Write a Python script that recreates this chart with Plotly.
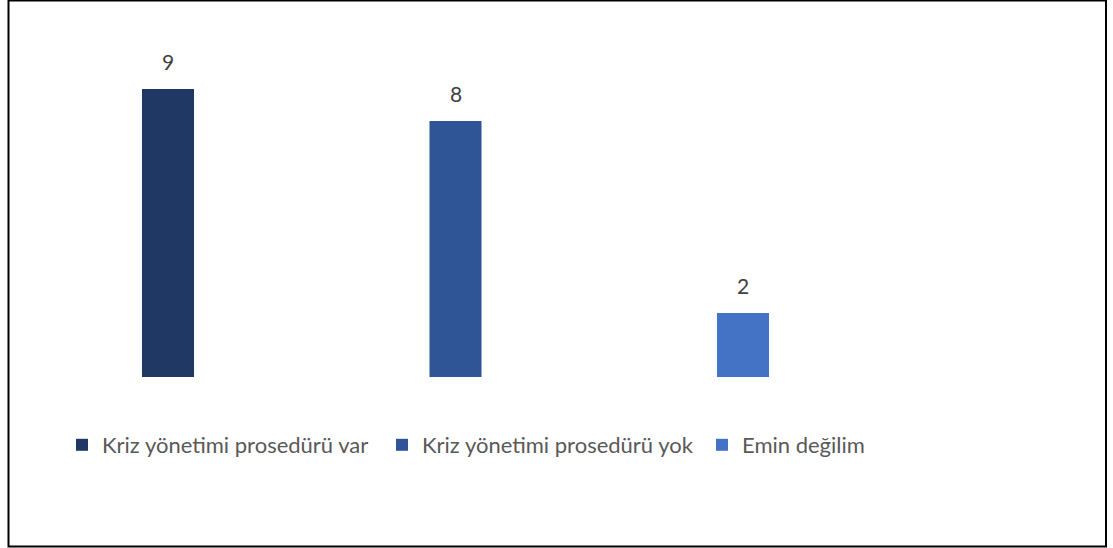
import plotly.graph_objects as go

W, H = 1113, 548
series_names = ["Kriz yönetimi prosedürü var", "Kriz yönetimi prosedürü yok", "Emin değilim"]
values = [9, 8, 2]
colors = ["#1F3864", "#2F5597", "#4472C4"]
positions = [0, 1, 2]

fig = go.Figure()
for name, v, c, p in zip(series_names, values, colors, positions):
    fig.add_trace(go.Bar(x=[p], y=[v], name=name, marker_color=c, width=0.181,
                         marker_line_width=0, hoverinfo="skip"))
    fig.add_annotation(x=p, y=v, text=str(v), showarrow=False, yanchor="bottom",
                       yshift=13, font=dict(family="Lato", size=21, color="#404040"))

fig.update_layout(
    width=W, height=H,
    margin=dict(l=0, r=0, t=0, b=0),
    paper_bgcolor="white", plot_bgcolor="white",
    barmode="overlay",
    xaxis=dict(domain=[24.25 / W, 886.75 / W], range=[-0.5, 2.5], visible=False),
    yaxis=dict(domain=[(H - 377) / H, (H - 57) / H], range=[0, 10], visible=False),
    showlegend=True,
    legend=dict(orientation="h", x=62 / W, xanchor="left", y=(H - 445) / H, yanchor="middle",
                font=dict(family="Lato", size=22, color="#595959"),
                entrywidth=275, entrywidthmode="pixels",
                itemclick=False, itemdoubleclick=False),
    shapes=[dict(type="rect", xref="paper", yref="paper",
                 x0=8.5 / W, x1=1106 / W, y0=(H - 546.5) / H, y1=(H - 0.5) / H,
                 line=dict(color="#000000", width=2), fillcolor="rgba(0,0,0,0)")],
)

fig.write_html("out.html")
